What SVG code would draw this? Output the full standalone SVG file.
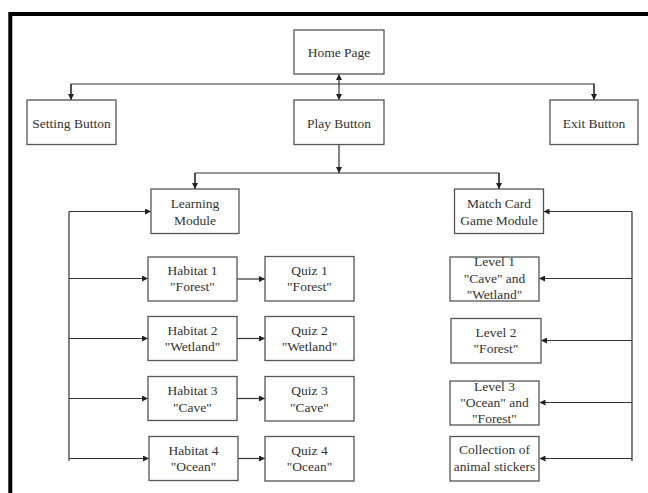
<svg xmlns="http://www.w3.org/2000/svg" width="648" height="493" viewBox="0 0 648 493">
<defs>
<marker id="ah" viewBox="0 0 10 10" refX="10" refY="5" markerWidth="6" markerHeight="6" markerUnits="userSpaceOnUse" orient="auto-start-reverse">
<path d="M0,0 L10,5 L0,10 z" fill="#222"/>
</marker>
<style>
.box{fill:#fff;stroke:#555;stroke-width:1.3}
.t{font-family:'Liberation Serif','DejaVu Serif','Times New Roman',serif;font-size:13.5px;fill:#333;text-anchor:middle}
.c{fill:none;stroke:#333;stroke-width:1.2}
.a{marker-end:url(#ah)}
</style>
</defs>
<rect width="648" height="493" fill="#fff"/>
<path d="M10.3,493 V14 H648" fill="none" stroke="#000" stroke-width="4"/>

<g id="connectors">
<path class="c" d="M71,100 V84 H594 V100"/>
<path class="c a" d="M71,84 V100"/>
<path class="c a" d="M594,84 V100"/>
<path class="c" d="M339,74 V100" marker-start="url(#ah)" marker-end="url(#ah)"/>
<path class="c a" d="M339,144.5 V173"/>
<path class="c" d="M195,189 V173 H499 V189"/>
<path class="c a" d="M195,173 V189"/>
<path class="c a" d="M499,173 V189"/>
<path class="c" d="M69,211.5 V461"/>
<path class="c a" d="M69,211.5 H151"/>
<path class="c a" d="M69,278.5 H148"/>
<path class="c a" d="M69,338.5 H148"/>
<path class="c a" d="M69,398.5 H148"/>
<path class="c a" d="M69,458.5 H149"/>
<path class="c a" d="M237,279 H265"/>
<path class="c a" d="M237,338.5 H265"/>
<path class="c a" d="M237,398.5 H265"/>
<path class="c a" d="M238,458.5 H265"/>
<path class="c" d="M632,211.5 V461"/>
<path class="c a" d="M632,211.5 H543.5"/>
<path class="c a" d="M632,278.5 H539"/>
<path class="c a" d="M632,340.5 H541"/>
<path class="c a" d="M632,402.5 H539.5"/>
<path class="c a" d="M632,458.5 H539.5"/>
</g>

<g id="home"><rect class="box" x="294" y="30" width="90" height="44"/><text class="t" x="339" y="57">Home Page</text></g>
<g id="setting"><rect class="box" x="27" y="100" width="89" height="44.5"/><text class="t" x="71.5" y="127.5">Setting Button</text></g>
<g id="play"><rect class="box" x="294" y="100" width="90" height="44.5"/><text class="t" x="339" y="127.5">Play Button</text></g>
<g id="exit"><rect class="box" x="550" y="100" width="88" height="44.5"/><text class="t" x="594" y="127.5">Exit Button</text></g>

<g id="learning"><rect class="box" x="151" y="189" width="88" height="44.5"/><text class="t" x="195" y="208">Learning</text><text class="t" x="195" y="224.7">Module</text></g>
<g id="matchcard"><rect class="box" x="454.5" y="189" width="89" height="44.5"/><text class="t" x="499" y="208">Match Card</text><text class="t" x="499" y="224.7">Game Module</text></g>

<g id="habitat1"><rect class="box" x="148" y="257" width="89" height="44"/><text class="t" x="192.5" y="274.7">Habitat 1</text><text class="t" x="192.5" y="291.4">"Forest"</text></g>
<g id="habitat2"><rect class="box" x="148" y="316.5" width="89" height="44"/><text class="t" x="192.5" y="335.3">Habitat 2</text><text class="t" x="192.5" y="350.7">"Wetland"</text></g>
<g id="habitat3"><rect class="box" x="148" y="376.5" width="89" height="44"/><text class="t" x="192.5" y="395.3">Habitat 3</text><text class="t" x="192.5" y="412">"Cave"</text></g>
<g id="habitat4"><rect class="box" x="149" y="436.5" width="89" height="44"/><text class="t" x="193.5" y="455.3">Habitat 4</text><text class="t" x="193.5" y="471.3">"Ocean"</text></g>

<g id="quiz1"><rect class="box" x="265" y="256.5" width="89" height="44.5"/><text class="t" x="309.5" y="274.7">Quiz 1</text><text class="t" x="309.5" y="291.4">"Forest"</text></g>
<g id="quiz2"><rect class="box" x="265" y="316.5" width="89" height="44"/><text class="t" x="309.5" y="335.3">Quiz 2</text><text class="t" x="309.5" y="350.7">"Wetland"</text></g>
<g id="quiz3"><rect class="box" x="265" y="376.5" width="89" height="44.5"/><text class="t" x="309.5" y="395.3">Quiz 3</text><text class="t" x="309.5" y="412">"Cave"</text></g>
<g id="quiz4"><rect class="box" x="265" y="436.5" width="89" height="44.5"/><text class="t" x="309.5" y="455.3">Quiz 4</text><text class="t" x="309.5" y="471.3">"Ocean"</text></g>

<g id="level1"><rect class="box" x="450" y="257" width="89" height="44"/><text class="t" x="494.5" y="266.3">Level 1</text><text class="t" x="494.5" y="283">"Cave" and</text><text class="t" x="494.5" y="299">"Wetland"</text></g>
<g id="level2"><rect class="box" x="451" y="318.5" width="90" height="44.5"/><text class="t" x="496" y="337.3">Level 2</text><text class="t" x="496" y="353">"Forest"</text></g>
<g id="level3"><rect class="box" x="450" y="381" width="89" height="44"/><text class="t" x="494.5" y="390.7">Level 3</text><text class="t" x="494.5" y="407.3">"Ocean" and</text><text class="t" x="494.5" y="423">"Forest"</text></g>
<g id="collection"><rect class="box" x="450" y="436.5" width="89" height="44.5"/><text class="t" x="494.5" y="454">Collection of</text><text class="t" x="494.5" y="471.3">animal stickers</text></g>
</svg>
